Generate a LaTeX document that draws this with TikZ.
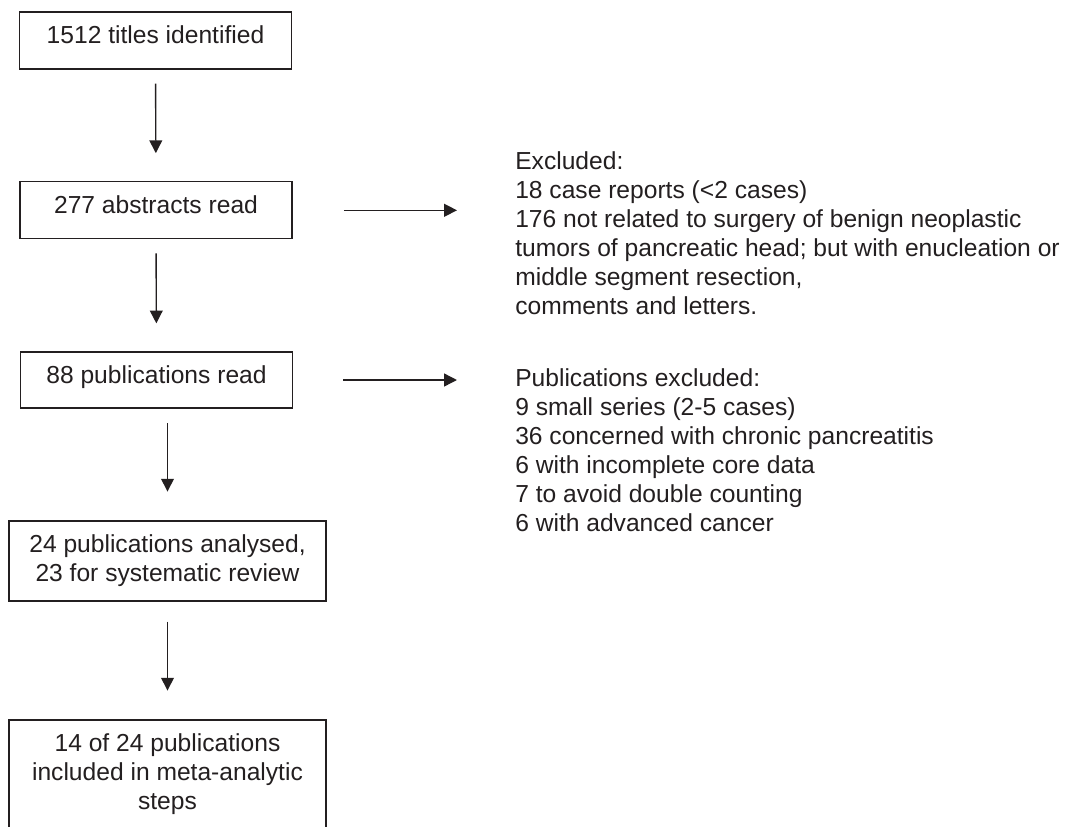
\documentclass[tikz,border=0pt]{standalone}
\usepackage{fontspec}
\setmainfont{Liberation Sans}
\usepackage{tikz}
\usetikzlibrary{arrows.meta}
\definecolor{inkgray}{RGB}{35,31,32}
\tikzset{
  stepbox/.style={draw=inkgray, line width=0.9pt, inner sep=0pt, align=center},
  onerow/.style={text height=0.73em, text depth=0.25em},
  flowarrow/.style={draw=inkgray, line width=1pt, -{Triangle[length=0.32cm,width=0.32cm]}},
  exctext/.style={anchor=north west, inner sep=0pt, align=left}
}
\begin{document}
\begin{tikzpicture}[x=0.025cm, y=-0.025cm, text=inkgray,
    font=\fontsize{17.5pt}{20.6pt}\selectfont]
  \useasboundingbox (0,0) rectangle (1070,827);
  \node[stepbox, onerow, minimum width=6.8cm, minimum height=1.425cm] (titles) at (155.5,40.5) {1512 titles identified};
  \node[stepbox, onerow, minimum width=6.8cm, minimum height=1.425cm] (abstracts) at (156,210.3) {277 abstracts read};
  \node[stepbox, onerow, minimum width=6.8cm, minimum height=1.4cm] (pubread) at (156.5,380) {88 publications read};
  \node[stepbox, minimum width=7.925cm, minimum height=2cm] (analysed) at (167.5,561) {24 publications analysed,\\23 for systematic review};
  \node[stepbox, minimum width=7.925cm, minimum height=2.725cm] (meta) at (167.5,774.5) {14 of 24 publications\\included in meta-analytic\\steps};
  \node[exctext] (excabs) at (515,151.1) {Excluded:\\18 case reports (<2 cases)\\176 not related to surgery of benign neoplastic\\tumors of pancreatic head; but with enucleation or\\middle segment resection,\\comments and letters.};
  \node[exctext] (excpub) at (515,368.8) {Publications excluded:\\9 small series (2-5 cases)\\36 concerned with chronic pancreatitis\\6 with incomplete core data\\7 to avoid double counting\\6 with advanced cancer};
  \draw[flowarrow, shorten <=0.35cm, shorten >=0.7cm] (titles) -- (abstracts);
  \draw[flowarrow, shorten <=0.35cm, shorten >=0.7cm] (abstracts) -- (pubread);
  \draw[flowarrow, shorten <=0.36cm, shorten >=0.72cm] (pubread.south -| analysed.north) -- (analysed.north);
  \draw[flowarrow, shorten <=0.5cm, shorten >=0.72cm] (analysed) -- (meta);
  \draw[flowarrow, shorten <=1.28cm, shorten >=1.45cm] (abstracts.east) -- (abstracts.east -| excabs.west);
  \draw[flowarrow, shorten <=1.25cm, shorten >=1.45cm] (pubread.east) -- (pubread.east -| excpub.west);
\end{tikzpicture}
\end{document}
